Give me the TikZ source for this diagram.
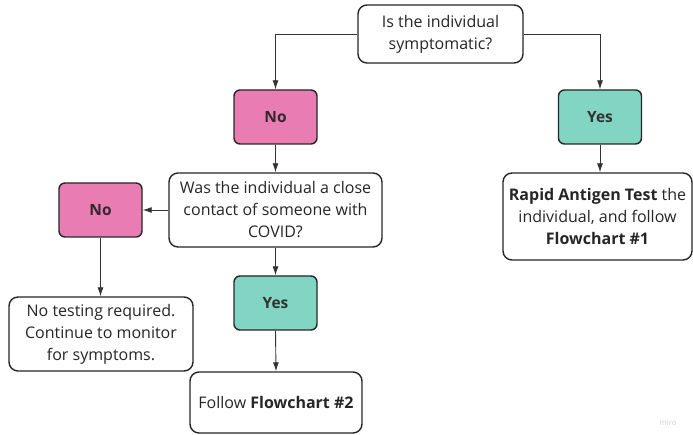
\documentclass[tikz,border=0pt]{standalone}
\usepackage{fontspec}
\setmainfont{Open Sans}
\usetikzlibrary{arrows.meta}
\definecolor{pinkfill}{HTML}{E97CB2}
\definecolor{tealfill}{HTML}{82D4C3}
\definecolor{edgecol}{HTML}{262626}
\definecolor{linecol}{HTML}{333333}
\definecolor{labelcol}{HTML}{33282F}
\begin{document}
\begin{tikzpicture}[x=1pt,y=-1pt,
  box/.style={draw=edgecol,line width=1.4pt,rounded corners=9pt,fill=white,
    inner sep=0pt,align=center,font=\fontsize{16}{22}\selectfont,text=black!85},
  nobox/.style={draw=edgecol,line width=1.4pt,rounded corners=6pt,fill=pinkfill,
    inner sep=0pt,minimum width=83pt,minimum height=54pt,
    font=\fontsize{15.5}{18}\selectfont\bfseries,text=labelcol},
  yesbox/.style={nobox,fill=tealfill,text=black!80},
  conn/.style={draw=linecol,line width=0.9pt,-{Latex[length=9pt,width=6pt]}}]
\useasboundingbox (0,0) rectangle (693,435);
\node[box,minimum width=165pt,minimum height=58pt] (top) at (440.5,34) {Is the individual\\symptomatic?};
\node[nobox] (noA) at (275.5,117) {No};
\node[yesbox] (yesA) at (600,117) {Yes};
\node[box,minimum width=213pt,minimum height=74pt] (q2) at (275.5,210) {Was the individual a close\\contact of someone with\\COVID?};
\node[box,minimum width=189pt,minimum height=87pt] (rapid) at (597.5,216.5) {\textbf{Rapid Antigen Test} the\\individual, and follow\\\textbf{Flowchart \#1}};
\node[nobox] (noB) at (100.5,210) {No};
\node[yesbox] (yesB) at (275.5,303) {Yes};
\node[box,minimum width=184pt,minimum height=74pt] (notest) at (101,334) {No testing required.\\Continue to monitor\\for symptoms.};
\node[box,minimum width=172pt,minimum height=61pt] (follow) at (276,402.5) {Follow \textbf{Flowchart \#2}};
\node[text=black!18,font=\fontsize{8}{9}\selectfont] (miro) at (668,423) {miro};
\draw[conn] (top.west) -| (noA.north);
\draw[conn] (top.east) -| (yesA.north);
\draw[conn] (noA.south) -- (q2.north);
\draw[conn] (yesA.south) -- (yesA.south |- rapid.north);
\draw[conn] (q2.west) -- (noB.east);
\draw[conn] (noB.south) -- (noB.south |- notest.north);
\draw[conn] (q2.south) -- (yesB.north);
\draw[conn] (yesB.south) -- (follow.north);
\end{tikzpicture}
\end{document}
